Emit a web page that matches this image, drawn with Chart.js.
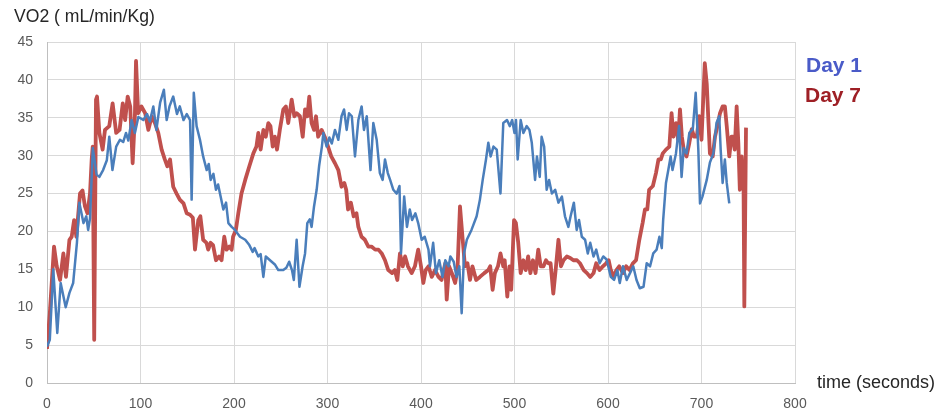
<!DOCTYPE html>
<html>
<head>
<meta charset="utf-8">
<script src="https://cdn.jsdelivr.net/npm/chart.js@4.4.1/dist/chart.umd.min.js"></script>
<style>
  body { margin: 0; background: #fff; }
  #wrap { position: relative; width: 945px; height: 414px; font-family: "Liberation Sans", Arial, sans-serif; }
  .lbl { position: absolute; line-height: 1; white-space: nowrap; }
</style>
</head>
<body>
<div id="wrap">
  <canvas id="chart" width="945" height="414"></canvas>
  <div class="lbl" style="left:14px; top:8px; font-size:17.6px; color:#262626;">VO2 ( mL/min/Kg)</div>
  <div class="lbl" style="left:806px; top:54px; font-size:21px; font-weight:bold; color:#4a5bc8;">Day 1</div>
  <div class="lbl" style="left:805px; top:84px; font-size:21px; font-weight:bold; color:#9e1f25;">Day 7</div>
  <div class="lbl" style="left:817px; top:373px; font-size:18px; color:#262626;">time (seconds)</div>
</div>
<script>
// Day 1 (blue) - time in seconds and VO2
var day1Time = [0, 3, 6.7, 11, 14.6, 20, 24, 28, 32, 34.6, 39, 42, 44, 46, 49, 53, 56, 60, 64, 66.6, 70, 74, 78, 81.5, 84.5, 87, 90.5, 94, 97.7, 103, 107, 110, 113.7, 117, 121, 125, 128, 131, 135, 139, 142, 146, 149.5, 153, 154.7, 157, 160, 163.6, 167, 170.8, 173, 175, 178, 180.7, 183, 185.7, 188.6, 191.5, 194, 197.5, 201, 206.4, 212, 216.4, 220, 222, 226, 228.5, 231.4, 234, 238.5, 244, 247.4, 252.7, 256, 259, 262, 264, 267, 270, 273.4, 276, 278.4, 281, 283, 285.6, 288.4, 291, 294, 295.6, 299, 302, 304.6, 308, 311.6, 315, 317.7, 320.5, 323, 326, 329.4, 333, 336.5, 339, 342, 346, 349, 352.6, 356, 359, 361.5, 364.5, 367, 370.4, 374, 377, 378.6, 382, 385, 388, 390.5, 394, 397, 400.7, 404, 408, 409.6, 413, 416, 419.5, 423, 426, 429.6, 431.4, 435, 438, 441, 443.5, 446, 449, 454, 459.5, 463, 466, 469.5, 472, 474.5, 477.5, 481, 485, 488, 492, 495, 497.5, 500, 501.6, 503.4, 506.6, 509.5, 513, 516, 518.5, 522, 524, 527, 529, 531.7, 534.4, 537, 540, 543.5, 547, 550.7, 554, 557.6, 560, 563.5, 566.5, 569, 572, 575.5, 578.4, 581, 584.5, 587.4, 591, 595, 598.5, 603, 606.5, 610, 612.6, 616, 620, 623.5, 627, 630.5, 634, 638, 641.4, 645, 648.4, 652, 655, 657.5, 659, 662, 664.5, 667, 669, 672.7, 676, 678.7, 681, 684, 687, 690.7, 693.8, 696.6, 698.4, 701, 705.6, 709, 712.7, 716, 719, 720.5, 722.6, 725, 727, 729.7];
var day1VO2 = [4.8, 5.7, 15, 6.6, 13.2, 10, 11.9, 13.2, 18.5, 23.8, 21.1, 22, 20.2, 21.7, 31, 27.5, 27.2, 28.1, 29.4, 32.5, 28.1, 31.2, 32.1, 31.8, 33, 32, 34.7, 33, 35.1, 34.7, 35.5, 34.5, 36.5, 33.4, 37, 38.7, 34.7, 36.5, 37.8, 35.5, 36.5, 34.7, 35.5, 34.7, 24.2, 38.3, 33.9, 32.1, 29.9, 28.1, 28.9, 26.8, 27.6, 25.5, 26.2, 24.6, 22.9, 23.8, 21.1, 20.6, 20.2, 19.3, 18.9, 18.2, 17.3, 17.8, 16.7, 17, 14, 16.7, 16.2, 15.6, 14.9, 14.9, 15.2, 16, 14.9, 13.6, 18.9, 12.7, 15.4, 17.1, 21.1, 21.6, 20.6, 23.3, 25.5, 28.6, 31.2, 33, 31.2, 32.4, 31.6, 33.4, 32.1, 35.2, 36.1, 33.4, 35.6, 35.2, 29.9, 34.7, 36.5, 33.4, 35.2, 28.1, 34.3, 32.1, 27.7, 26.8, 29.5, 27.7, 26.8, 25.5, 25, 26, 17.1, 24.6, 20.6, 22.9, 21.5, 22.4, 21.1, 18.9, 19.3, 17.6, 15.4, 18.5, 14.5, 16.2, 14, 16.2, 15.4, 16.7, 16, 14, 15.4, 9.2, 17.1, 18.9, 20.2, 22, 24.2, 26.8, 29.5, 31.7, 29.9, 31.2, 30.8, 25, 34.3, 34.7, 33.9, 34.7, 33, 34.7, 29.5, 34.7, 33, 33.9, 33.4, 31.7, 26.8, 29.9, 27.2, 32.5, 31.2, 25.5, 26.8, 25, 25.5, 23.8, 24.6, 22, 20.6, 22, 23.8, 20.2, 21.5, 19.3, 18.9, 17.1, 18.5, 16.7, 17.6, 15.8, 16.7, 16.3, 14, 13.6, 14.9, 13.2, 15.4, 13.6, 14.5, 15.4, 13.6, 12.5, 12.7, 15.8, 15.4, 17.1, 17.6, 19.3, 17.8, 21.5, 26.4, 28.1, 29.9, 28.1, 30.3, 33.9, 27.2, 31, 30.3, 33, 33.5, 38.3, 30.8, 23.7, 24.6, 26.8, 29.1, 30.3, 34.3, 35.2, 30.8, 26.4, 29.5, 26.4, 23.7];

// Day 7 (red)
var day7Time = [0, 3, 7.5, 10.4, 14, 17.5, 20.3, 24, 26.4, 29, 31.4, 35.3, 38, 40.6, 43.3, 46, 47.8, 48.9, 50.5, 52.4, 53.5, 56, 59.5, 62, 66.6, 70.2, 74, 77.6, 81, 83.6, 86.3, 89, 91.6, 94, 95.2, 97.5, 101, 105, 108.4, 112, 115.5, 119, 122.6, 126, 128.7, 131.6, 135, 138.6, 142, 146, 149.4, 153, 156, 158.3, 161.8, 164, 167, 170.6, 172.4, 175, 177.6, 180.7, 184, 186.7, 189.6, 192, 195, 197.5, 199, 202, 204.6, 208, 212, 216.4, 220.7, 224, 226, 228.5, 231.4, 234, 236.7, 239, 241.4, 243.7, 246, 249, 252.7, 255.5, 258, 261.7, 264.5, 267, 270.5, 273.5, 276, 278.5, 280.5, 283, 285.6, 287.7, 290, 293.7, 297, 300.6, 304, 308, 311.6, 315, 318, 320, 322, 325, 328, 331, 333, 336.4, 340, 343.7, 347, 351, 354.5, 358, 361.5, 365, 369, 372, 374.7, 377.5, 380.5, 383, 386, 390, 393.5, 397, 400, 402.5, 405, 408, 411.5, 415, 418.7, 422, 426, 427.5, 430, 433, 436.5, 439, 441.7, 444.6, 447, 449.7, 452.4, 455, 459, 463, 467.7, 472, 474, 476.6, 479, 482.3, 485, 488, 489.5, 492.3, 494.6, 496.5, 499.5, 501.5, 504, 506.6, 509.5, 512, 514.6, 517, 519.7, 522.5, 525.4, 528, 531, 533.7, 536, 538.6, 541.5, 544.4, 547, 549.7, 552.4, 556, 559.6, 563, 566.8, 570, 574, 577.5, 581, 584.5, 587.4, 591, 594.6, 598, 600.7, 603, 606, 609, 612, 616, 619.4, 623, 626.6, 630, 633.5, 637, 639.5, 642, 644, 648, 651.3, 654, 656.5, 658.6, 662, 665.6, 668, 670, 672.7, 675, 677, 679, 681.6, 684, 687, 689.6, 692, 695, 697.5, 700, 703.5, 705.6, 707.5, 709, 712, 714.4, 717, 719.8, 722.6, 725, 727, 729.7, 732, 733.7, 735.5, 737.6, 739.4, 741, 743, 745, 745.8, 747.6];
var day7VO2 = [4.5, 9.2, 18, 15.4, 13.6, 17.1, 14, 18.9, 19.3, 21.5, 19.3, 25, 25.4, 23.3, 22.4, 25, 29.5, 31.2, 5.7, 37.4, 37.8, 33, 30.8, 33.4, 33.9, 36.9, 33, 33.4, 36.9, 34.7, 37.8, 36.5, 29, 35.2, 42.5, 35.6, 36.5, 35.6, 33.4, 35.2, 34.3, 33, 30.8, 29.5, 28.6, 29.5, 25.9, 25, 24.2, 23.7, 22.4, 22.2, 21.8, 17.6, 21.5, 22, 18.9, 18.5, 17.6, 18.5, 18.2, 16.2, 16.7, 16.2, 19.3, 17.6, 18, 17.6, 19.3, 20.2, 22.4, 25, 26.8, 28.6, 30.3, 31.2, 33, 30.8, 33.4, 32.5, 34.3, 33.9, 31.2, 32.5, 30.8, 33.4, 36.1, 36.5, 34.3, 37.4, 35.2, 35.6, 35.2, 32.5, 36.1, 35.2, 37.8, 34.3, 33.4, 35.2, 32.5, 33.4, 32.5, 31.2, 29.9, 29, 28.1, 25.9, 26.4, 25.5, 22.9, 23.8, 22, 22.4, 20.6, 19.3, 18.9, 18, 18, 17.6, 17.6, 17.1, 16.2, 14.9, 14.5, 14.9, 13.6, 17.1, 15.4, 16.7, 15.4, 14.5, 15.4, 17.6, 15.4, 13.2, 14.9, 15.4, 14, 14.9, 14, 13.6, 15.8, 11, 15.4, 14.5, 13.2, 14.9, 23.3, 18.9, 15.4, 15.8, 13.6, 15.4, 13.6, 14, 14.5, 14.9, 15.4, 12.3, 14.5, 15.4, 17.1, 15.4, 16.2, 11.4, 15.4, 12.3, 21.5, 21.1, 18.5, 14.5, 16.2, 14.9, 16.7, 14.5, 16.2, 14.5, 17.6, 15.4, 15.4, 16.2, 15.8, 15.8, 11.8, 15.4, 18.9, 15.4, 16.2, 16.7, 16.5, 16.2, 16.2, 15.8, 14.9, 14.5, 14, 14.5, 15.8, 14.9, 15.4, 15.8, 16.2, 14.9, 14, 14.9, 15.4, 14.5, 15.4, 14.9, 15.8, 16.2, 18.9, 21.1, 22.9, 22.9, 25.5, 26, 27.7, 29.5, 29.5, 30.3, 30.8, 31.2, 35.6, 32.5, 34.3, 32.1, 36.1, 32.5, 30.3, 29.9, 31.7, 33.5, 32.5, 32.5, 35.2, 32.1, 42.2, 39.5, 34.3, 30.3, 29.9, 32.5, 33.9, 35.6, 36.5, 36.5, 33.9, 29.9, 32.5, 32.5, 30.8, 36.5, 31.7, 25.5, 29.9, 25.5, 10.1, 33.7];

// axis ranges
var xMin = 0, xMax = 800, xStep = 100;
var yMin = 0, yMax = 45, yStep = 5;

function toPoints(times, values) {
    return times.map(function(t, i) { return { x: t, y: values[i] }; });
}

var tickFont = { family: "'Liberation Sans', Arial, sans-serif", size: 14 };

var ctx = document.getElementById('chart').getContext('2d');
var chart = new Chart(ctx, {
    type: 'line',
    data: {
        datasets: [{
            label: 'Day 1',
            data: toPoints(day1Time, day1VO2),
            borderColor: '#4a7ebb',
            borderWidth: 2.5,
            pointRadius: 0,
            tension: 0,
            borderJoinStyle: 'round',
            fill: false
        }, {
            label: 'Day 7',
            data: toPoints(day7Time, day7VO2),
            borderColor: '#c0504d',
            borderWidth: 3.8,
            pointRadius: 0,
            tension: 0,
            borderJoinStyle: 'round',
            fill: false
        }]
    },
    options: {
        responsive: false,
        animation: false,
        devicePixelRatio: 1,
        layout: { padding: { top: 42, right: 150, left: 0, bottom: 0 } },
        plugins: {
            legend: { display: false },
            tooltip: { enabled: false }
        },
        scales: {
            x: {
                type: 'linear',
                min: xMin, max: xMax,
                ticks: { stepSize: xStep, color: '#595959', font: tickFont, padding: 13, maxRotation: 0 },
                grid: { color: '#d9d9d9', drawTicks: false },
                border: { color: '#bfbfbf' },
                afterFit: function(scale) { scale.height = 31; }
            },
            y: {
                min: yMin, max: yMax,
                ticks: { stepSize: yStep, color: '#595959', font: tickFont, padding: 14 },
                grid: { color: '#d9d9d9', drawTicks: false },
                border: { color: '#bfbfbf' },
                afterFit: function(scale) { scale.width = 47; }
            }
        }
    }
});
</script>
</body>
</html>
